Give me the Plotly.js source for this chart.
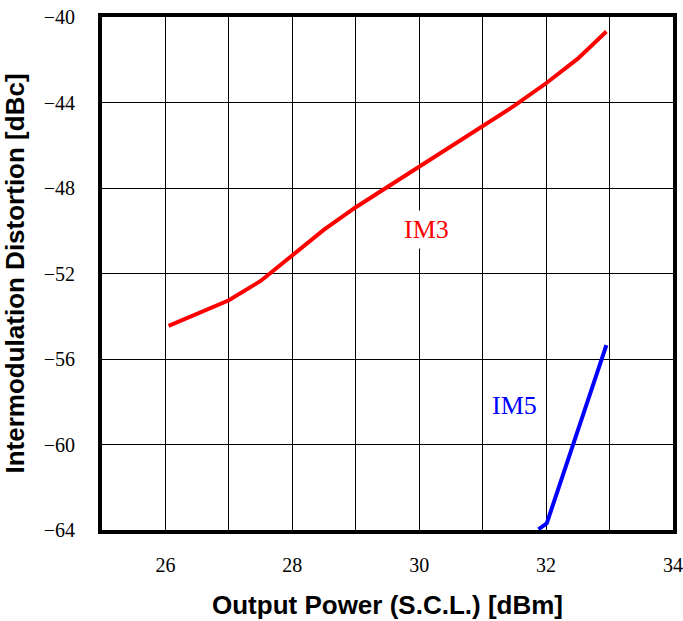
<!DOCTYPE html>
<html>
<head>
<meta charset="utf-8">
<script src="https://cdn.plot.ly/plotly-3.0.1.min.js"></script>
<style>html,body{margin:0;padding:0;background:#fff}#chart{width:683px;height:621px}</style>
</head>
<body>
<div id="chart"></div>
<script>
// IM3 series
const im3X = [26.05, 26.5, 27.0, 27.5, 28.0, 28.5, 29.0, 29.5, 30.0, 30.5, 31.0, 31.5, 32.0, 32.5, 32.95];
const im3Y = [-54.45, -53.9, -53.25, -52.35, -51.15, -49.95, -48.9, -47.95, -47.0, -46.1, -45.1, -44.15, -43.1, -41.95, -40.68];
// IM5 series
const im5X = [31.88, 32.01, 32.95];
const im5Y = [-63.97, -63.69, -55.35];
// axis ticks
const xTickVals = [25, 26, 27, 28, 29, 30, 31, 32, 33, 34];
const xTickText = ['', '26', '', '28', '', '30', '', '32', '', '34'];
const yTickVals = [-64, -60, -56, -52, -48, -44, -40];

const traces = [
  {x: im3X, y: im3Y, mode: 'lines', line: {color: '#ff0000', width: 4}, hoverinfo: 'skip'},
  {x: im5X, y: im5Y, mode: 'lines', line: {color: '#0000ff', width: 4}, hoverinfo: 'skip'}
];

const tickFont = {family: 'Liberation Serif, serif', size: 20, color: '#000'};
const titleFont = {family: 'Liberation Sans, Arial, sans-serif', size: 26, color: '#000', weight: 'bold'};
const annFont = {family: 'Liberation Serif, serif', size: 26};

const layout = {
  width: 683, height: 621,
  margin: {l: 101.5, r: 10, t: 16.5, b: 90.5},
  paper_bgcolor: '#fff', plot_bgcolor: '#fff',
  showlegend: false,
  xaxis: {
    range: [25, 34], tickvals: xTickVals, ticktext: xTickText,
    showgrid: true, gridcolor: '#000', gridwidth: 1,
    showline: true, linecolor: '#000', linewidth: 4, mirror: true,
    ticks: 'outside', ticklen: 14, tickcolor: 'rgba(0,0,0,0)',
    tickfont: tickFont, zeroline: false,
    title: {text: 'Output Power (S.C.L.) [dBm]', font: titleFont, standoff: 22}
  },
  yaxis: {
    range: [-64, -40], tickvals: yTickVals,
    showgrid: true, gridcolor: '#000', gridwidth: 1,
    showline: true, linecolor: '#000', linewidth: 4, mirror: true,
    ticks: 'outside', ticklen: 19, tickcolor: 'rgba(0,0,0,0)',
    tickfont: tickFont, zeroline: false,
    title: {text: 'Intermodulation Distortion [dBc]', font: titleFont, standoff: 14}
  },
  annotations: [
    {x: 30.11, y: -49.92, xref: 'x', yref: 'y', text: 'IM3', showarrow: false,
     font: Object.assign({}, annFont, {color: '#ff0000'}), xanchor: 'center', yanchor: 'middle',
     bgcolor: '#fff', borderpad: 4},
    {x: 31.5, y: -58.18, xref: 'x', yref: 'y', text: 'IM5', showarrow: false,
     font: Object.assign({}, annFont, {color: '#0000ff'}), xanchor: 'center', yanchor: 'middle',
     bgcolor: '#fff', borderpad: 4}
  ]
};

Plotly.newPlot('chart', traces, layout, {displayModeBar: false, staticPlot: true});
</script>
</body>
</html>
